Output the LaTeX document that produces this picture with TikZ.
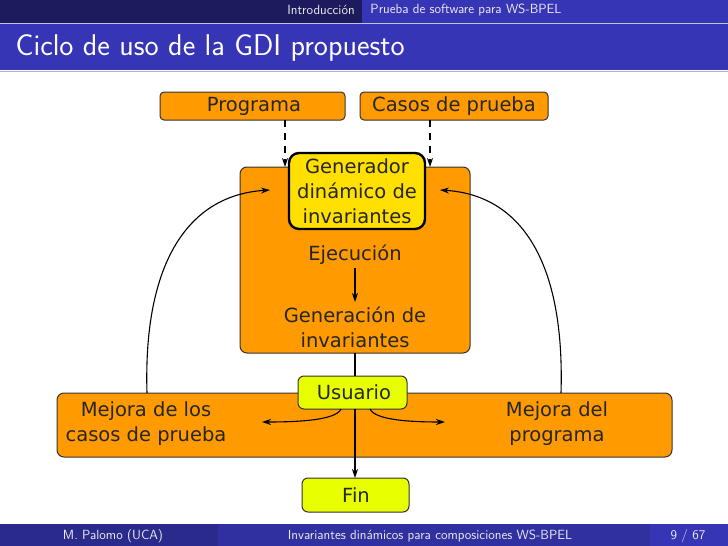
\documentclass[tikz,border=0pt]{standalone}
\usepackage{fontspec}
\newfontfamily\dv{DejaVu Sans}
\usetikzlibrary{arrows.meta}
\definecolor{dark}{HTML}{1B1B5E}
\definecolor{mid}{HTML}{3535B5}
\definecolor{foot1}{HTML}{2A2A8C}
\definecolor{foot2}{HTML}{3030A0}
\definecolor{orng}{HTML}{FF9A00}
\definecolor{yel}{HTML}{FFE000}
\definecolor{lime}{HTML}{E8FF00}
\tikzset{
 box/.style={draw=black!80,fill=orng,rounded corners=4pt,line width=1pt},
 lbl/.style={font=\dv\fontsize{19.5}{25}\selectfont,align=center,text=black!85},
 hdr/.style={text=white!85!gray,font=\sffamily\fontsize{13.3}{15}\selectfont},
 arr/.style={-{Stealth[length=9pt,width=6pt]},line width=1.1pt},
}
\begin{document}
\begin{tikzpicture}[x=1pt,y=-1pt]
\useasboundingbox (0,0) rectangle (728,546);
\fill[white] (0,0) rectangle (728,546);
% header
\fill[mid] (0,0) rectangle (728,70);
\fill[dark] (0,0) rectangle (362,23);
\draw[white!70!mid] (0,23)--(728,23);
\node[hdr] (h1) at (321,10) {Introducción};
\node[hdr] (h2) at (466,10) {Prueba de software para WS-BPEL};
\node[text=white,font=\sffamily\fontsize{30}{34}\selectfont,anchor=west] (title) at (12,48) {Ciclo de uso de la GDI propuesto};
\draw[white!60!mid,line width=1pt] (0,71)--(728,71);
% footer
\fill[foot1] (0,524) rectangle (218,546);
\fill[foot2] (218,524) rectangle (650,546);
\fill[mid] (650,524) rectangle (728,546);
\node[hdr] (f1) at (113,536) {M. Palomo (UCA)};
\node[hdr] (f2) at (430,536) {Invariantes dinámicos para composiciones WS-BPEL};
\node[hdr] (f3) at (688,536) {9 / 67};
% boxes
\draw[box] (160,92) rectangle (345,120);
\node[lbl] (prog) at (254,106) {Programa};
\coordinate (progb) at (285,120);
\draw[box] (360,92) rectangle (548,120);
\node[lbl] (casos) at (454,106) {Casos de prueba};
\coordinate (casosb) at (430,120);
\draw[box,rounded corners=7pt] (240,167) rectangle (470,353);
\coordinate (bigb) at (355,353);
\draw[draw=black,fill=yel,rounded corners=10pt,line width=2.4pt] (289,153) rectangle (425,229);
\node[lbl,font=\dv\fontsize{19.5}{25}\selectfont] (gen) at (357,191) {Generador\\dinámico de\\invariantes};
\coordinate (g1) at (285,167);
\coordinate (g2) at (430,167);
\draw[arr,dash pattern=on 7pt off 6pt] (progb) -- (g1);
\draw[arr,dash pattern=on 7pt off 6pt] (casosb) -- (g2);
\node[lbl] (ejec) at (355,255) {Ejecución};
\node[lbl] (geninv) at (355,327) {Generación de\\invariantes};
\draw[arr] (355,268) -- (355,302);
% bottom
\draw[box,rounded corners=7pt] (57,393) rectangle (672,457);
\node[lbl] (mc) at (146,424) {Mejora de los\\casos de prueba};
\node[lbl] (mp) at (557,424) {Mejora del\\programa};
\draw[draw=black!80,fill=lime,rounded corners=6pt,line width=1pt] (298,376) rectangle (407,409);
\node[lbl] (usr) at (354,392) {Usuario};
\draw[line width=1.8pt] (bigb) -- (355,376);
\draw[draw=black!80,fill=lime,rounded corners=6pt,line width=1pt] (302,478) rectangle (409,512);
\node[lbl] (fin) at (356,495) {Fin};
\coordinate (u0) at (355,409);
\coordinate (fint) at (355,478);
\draw[arr] (u0) -- (fint);
\coordinate (u1) at (341,409);
\coordinate (u2) at (370,409);
\coordinate (l1) at (262,422);
\coordinate (r1) at (445,422);
\draw[arr] (u1) .. controls (336,420) and (300,422) .. (l1);
\draw[arr] (u2) .. controls (375,420) and (410,422) .. (r1);
% loops
\coordinate (ls) at (147,393);
\coordinate (le) at (270,190);
\coordinate (rs) at (561,393);
\coordinate (re) at (440,190);
\draw[arr] (ls) .. controls (143,260) and (190,195) .. (le);
\draw[arr] (rs) .. controls (565,260) and (520,195) .. (re);
\end{tikzpicture}
\end{document}
